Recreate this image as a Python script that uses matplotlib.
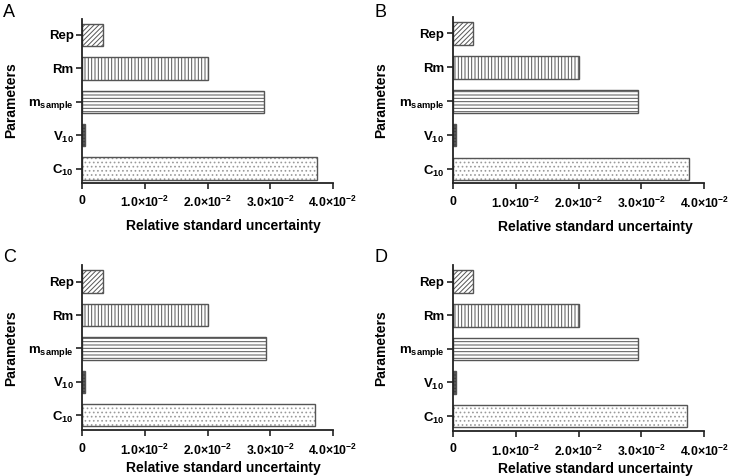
import matplotlib
matplotlib.use("Agg")
import matplotlib.pyplot as plt

plt.rcParams['font.family'] = ['Liberation Sans', 'DejaVu Sans']
plt.rcParams['font.weight'] = 'bold'
plt.rcParams['mathtext.fontset'] = 'custom'
plt.rcParams['mathtext.rm'] = 'Liberation Sans:bold'
plt.rcParams['mathtext.it'] = 'Liberation Sans:bold'
plt.rcParams['mathtext.bf'] = 'Liberation Sans:bold'
plt.rcParams['mathtext.default'] = 'rm'
plt.rcParams['hatch.linewidth'] = 0.7

# parameters, bottom to top
params = ['C$_{10}$', 'V$_{10}$', 'm$_{sample}$', 'Rm', 'Rep']

# relative standard uncertainty per panel
vals_a = [0.0374, 0.0005, 0.0290, 0.0200, 0.0033]
vals_b = [0.0375, 0.0006, 0.0294, 0.0201, 0.0033]
vals_c = [0.0371, 0.0005, 0.0294, 0.0200, 0.0033]
vals_d = [0.0372, 0.0006, 0.0294, 0.0201, 0.0033]

xticks = [0, 0.01, 0.02, 0.03, 0.04]
xtick_labels = ['0', '1.0×10$^{-2}$', '2.0×10$^{-2}$', '3.0×10$^{-2}$', '4.0×10$^{-2}$']

hatches = ['....', '-----', '-----', '|||||', '///////']
faces = ['white', '#555555', 'white', 'white', 'white']
hatch_cols = ['#9a9a9a', '#333333', '#555555', '#555555', '#555555']

fig = plt.figure(figsize=(7.29, 4.76), dpi=100)

panels = [
    ('A', vals_a, [82/729, 1-182.7/476, 251/729, 164.2/476], (-0.42, 4.49), (3/729, 1-16.7/476)),
    ('B', vals_b, [452.7/729, 1-183.3/476, 251.7/729, 166.6/476], (-0.42, 4.49), (374/729, 1-16.7/476)),
    ('C', vals_c, [82/729, 1-430.3/476, 251/729, 165/476], (-0.45, 4.49), (3/729, 1-262/476)),
    ('D', vals_d, [452.7/729, 1-431/476, 251.7/729, 165.7/476], (-0.45, 4.49), (374/729, 1-262/476)),
]

for letter, vals, pos, ylim, lpos in panels:
    ax = fig.add_axes(pos)
    y = list(range(len(params)))
    for yi, v, h, fc, hc in zip(y, vals, hatches, faces, hatch_cols):
        # hatch layer, then outline on top
        ax.barh(yi, v, height=0.67, color=fc, edgecolor=hc, hatch=h, linewidth=0)
        ax.barh(yi, v, height=0.67, fill=False, edgecolor='#555555', linewidth=1.0)
    ax.set_xlim(0, 0.04)
    ax.set_ylim(*ylim)
    ax.set_yticks(y)
    ax.set_yticklabels(params, fontsize=9.5, fontweight='bold')
    ax.set_xticks(xticks)
    ax.set_xticklabels(xtick_labels, fontsize=8.8, fontweight='bold')
    for s in ['top', 'right']:
        ax.spines[s].set_visible(False)
    for s in ['left', 'bottom']:
        ax.spines[s].set_linewidth(1.3)
        ax.spines[s].set_color('#222222')
    ax.tick_params(axis='both', direction='out', length=4, width=1.2, color='#222222')
    ax.tick_params(axis='y', pad=2)
    ax.tick_params(axis='x', pad=5)
    ax.set_xlabel('Relative standard uncertainty', fontsize=10, fontweight='bold')
    ax.set_ylabel('Parameters', fontsize=10, fontweight='bold')
    if letter in ('A', 'B'):
        ax.xaxis.set_label_coords(0.565, -0.22)
    else:
        ax.xaxis.set_label_coords(0.565, -0.185)
    ax.yaxis.set_label_coords(-0.255, 0.5)
    fig.text(lpos[0], lpos[1], letter, fontsize=13, fontweight='normal', va='baseline')

fig.savefig('out.png', dpi=100)
